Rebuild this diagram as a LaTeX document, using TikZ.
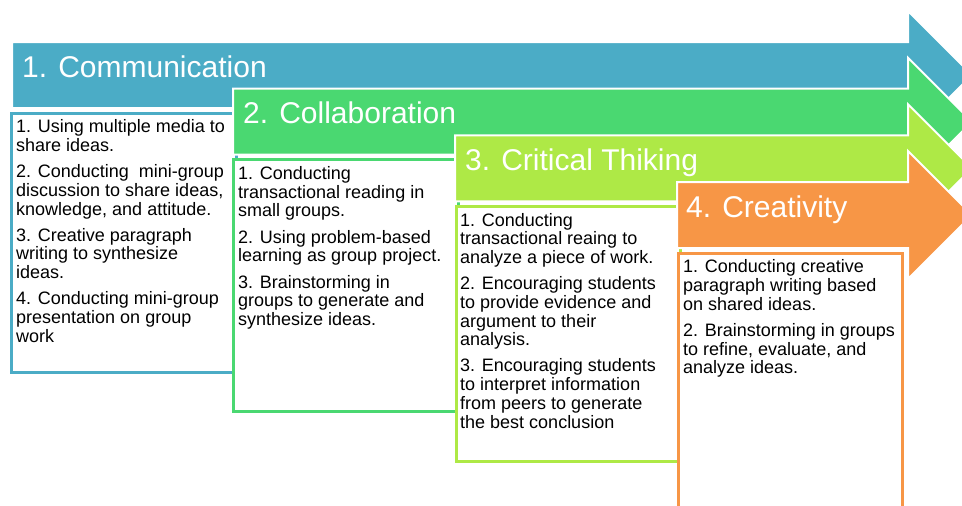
\documentclass[tikz,border=0pt]{standalone}
\usepackage{fontspec}
\setmainfont{Liberation Sans}
\definecolor{cblue}{HTML}{4BACC6}
\definecolor{cgreen}{HTML}{4AD871}
\definecolor{clime}{HTML}{AEE946}
\definecolor{corange}{HTML}{F79646}
\tikzset{
  arrowshape/.style={draw=white, line width=2pt, line join=miter},
  boxshape/.style={fill=white, line width=3pt},
  title/.style={anchor=base west, inner sep=0pt, text=white, font=\fontsize{30}{36}\selectfont},
  body/.style={anchor=north west, inner sep=0pt, align=left, text=black, font=\fontsize{18}{18.7}\selectfont}
}
\begin{document}
\begin{tikzpicture}[x=1pt,y=-1pt]
\useasboundingbox (0,0) rectangle (962,506);
\clip (0,0) rectangle (962,506);
\fill[white] (0,0) rectangle (962,506);
% arrow 1
\draw[arrowshape, fill=cblue] (12,42) -- (908,42) -- (908,11) -- (972,75) -- (908,139) -- (908,108) -- (12,108) -- cycle;
\node[title] (t1) at (22,77) {1. Communication};
\draw[boxshape, draw=cblue] (11,113) rectangle (236,372);
\node[body] (b1) at (16,119.5) {1. Using multiple media to\\share ideas.\\[7.5pt]2. Conducting \ mini-group\\discussion to share ideas,\\knowledge, and attitude.\\[7.5pt]3. Creative paragraph\\writing to synthesize\\ideas.\\[7.5pt]4. Conducting mini-group\\presentation on group\\work};
% arrow 2
\draw[arrowshape, fill=cgreen] (233,88.7) -- (908,88.7) -- (908,57.7) -- (972,121.7) -- (908,185.7) -- (908,154.7) -- (233,154.7) -- cycle;
\node[title] (t2) at (243,123.5) {2. Collaboration};
\draw[boxshape, draw=cgreen] (233,159.5) rectangle (458,411);
\node[body] (b2) at (238,166.3) {1. Conducting\\transactional reading in\\small groups.\\[7.5pt]2. Using problem-based\\learning as group project.\\[7.5pt]3. Brainstorming in\\groups to generate and\\synthesize ideas.};
% arrow 3
\draw[arrowshape, fill=clime] (455,135.3) -- (908,135.3) -- (908,104.3) -- (972,168.3) -- (908,232.3) -- (908,201.3) -- (455,201.3) -- cycle;
\node[title] (t3) at (465,170) {3. Critical Thiking};
\draw[boxshape, draw=clime] (456,206) rectangle (680,461);
\node[body] (b3) at (460,212.8) {1. Conducting\\transactional reaing to\\analyze a piece of work.\\[7.5pt]2. Encouraging students\\to provide evidence and\\argument to their\\analysis.\\[7.5pt]3. Encouraging students\\to interpret information\\from peers to generate\\the best conclusion};
% arrow 4
\draw[arrowshape, fill=corange] (677,182) -- (908,182) -- (908,151) -- (972,215) -- (908,279) -- (908,248) -- (677,248) -- cycle;
\node[title] (t4) at (686,217) {4. Creativity};
\draw[boxshape, draw=corange] (678,253) rectangle (902,530);
\node[body] (b4) at (683,259.5) {1. Conducting creative\\paragraph writing based\\on shared ideas.\\[7.5pt]2. Brainstorming in groups\\to refine, evaluate, and\\analyze ideas.};
\end{tikzpicture}
\end{document}
